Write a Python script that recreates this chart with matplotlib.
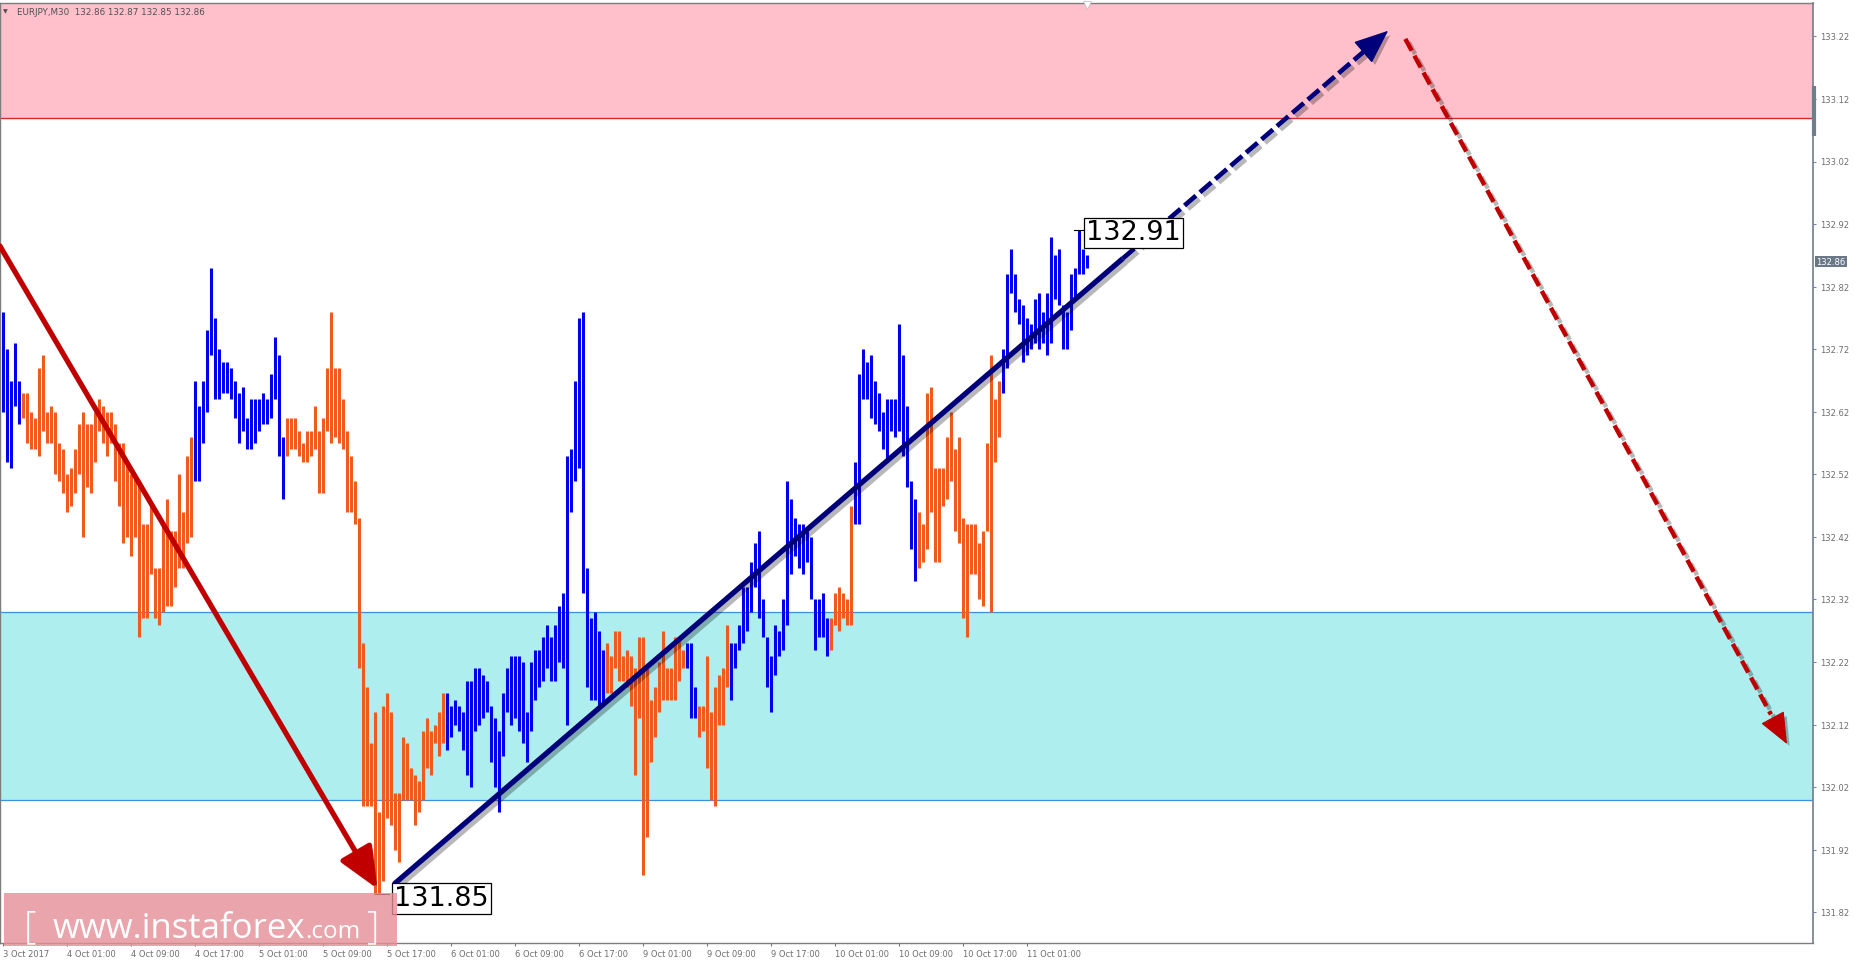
import matplotlib
matplotlib.use("Agg")
import matplotlib.pyplot as plt
import matplotlib.transforms as mtransforms
from matplotlib import patheffects as pe
from matplotlib.patches import Rectangle

# ---------------- data (EURJPY M30, bar highs / lows) ----------------
highs = [
    132.78, 132.72, 132.67, 132.73, 132.67, 132.65, 132.65, 132.62, 132.61, 132.69,
    132.71, 132.62, 132.63, 132.62, 132.57, 132.56, 132.52, 132.53, 132.56, 132.60,
    132.62, 132.60, 132.60, 132.62, 132.64, 132.63, 132.62, 132.62, 132.60, 132.57,
    132.57, 132.54, 132.52, 132.52, 132.51, 132.44, 132.44, 132.47, 132.37, 132.37,
    132.44, 132.48, 132.43, 132.43, 132.52, 132.46, 132.55, 132.58, 132.67, 132.63,
    132.67, 132.75, 132.85, 132.77, 132.72, 132.70, 132.70, 132.69, 132.67, 132.65,
    132.66, 132.61, 132.64, 132.64, 132.64, 132.65, 132.64, 132.68, 132.74, 132.71,
    132.58, 132.61, 132.61, 132.61, 132.59, 132.57, 132.59, 132.59, 132.63, 132.59,
    132.61, 132.69, 132.78, 132.69, 132.69, 132.64, 132.59, 132.55, 132.51, 132.45,
    132.25, 132.18, 132.09, 132.14, 131.98, 132.15, 132.17, 132.14, 132.01, 132.01,
    132.10, 132.09, 132.05, 132.04, 132.03, 132.11, 132.13, 132.11, 132.12, 132.14,
    132.17, 132.17, 132.15, 132.16, 132.15, 132.14, 132.19, 132.19, 132.21, 132.21,
    132.20, 132.19, 132.15, 132.13, 132.11, 132.17, 132.21, 132.23, 132.23, 132.23,
    132.22, 132.14, 132.22, 132.24, 132.24, 132.26, 132.28, 132.26, 132.28, 132.31,
    132.33, 132.55, 132.56, 132.67, 132.77, 132.78, 132.37, 132.29, 132.30, 132.27,
    132.24, 132.25, 132.23, 132.27, 132.27, 132.23, 132.24, 132.23, 132.21, 132.26,
    132.26, 132.21, 132.16, 132.18, 132.22, 132.27, 132.21, 132.21, 132.26, 132.26,
    132.24, 132.25, 132.25, 132.18, 132.15, 132.15, 132.23, 132.14, 132.18, 132.20,
    132.21, 132.28, 132.25, 132.25, 132.28, 132.34, 132.34, 132.38, 132.41, 132.43,
    132.32, 132.26, 132.23, 132.28, 132.27, 132.32, 132.51, 132.48, 132.45, 132.44,
    132.44, 132.43, 132.42, 132.32, 132.32, 132.33, 132.29, 132.29, 132.33, 132.34,
    132.33, 132.32, 132.47, 132.54, 132.68, 132.72, 132.70, 132.71, 132.67, 132.65,
    132.62, 132.64, 132.64, 132.64, 132.76, 132.71, 132.63, 132.51, 132.48, 132.46,
    132.44, 132.65, 132.66, 132.53, 132.53, 132.53, 132.58, 132.62, 132.56, 132.58,
    132.45, 132.44, 132.44, 132.44, 132.41, 132.43, 132.57, 132.71, 132.64, 132.67,
    132.72, 132.84, 132.88, 132.84, 132.80, 132.79, 132.77, 132.76, 132.80, 132.81,
    132.78, 132.81, 132.90, 132.87, 132.88, 132.79, 132.78, 132.84, 132.85, 132.91,
    132.88, 132.87,
]
lows = [
    132.62, 132.54, 132.53, 132.63, 132.60, 132.61, 132.57, 132.56, 132.56, 132.55,
    132.59, 132.57, 132.57, 132.52, 132.51, 132.49, 132.46, 132.47, 132.49, 132.52,
    132.42, 132.50, 132.49, 132.54, 132.59, 132.57, 132.55, 132.57, 132.51, 132.47,
    132.41, 132.42, 132.39, 132.42, 132.26, 132.29, 132.29, 132.36, 132.29, 132.28,
    132.30, 132.31, 132.31, 132.34, 132.37, 132.37, 132.41, 132.42, 132.51, 132.51,
    132.57, 132.62, 132.71, 132.64, 132.64, 132.65, 132.65, 132.64, 132.61, 132.57,
    132.59, 132.56, 132.56, 132.57, 132.59, 132.60, 132.60, 132.61, 132.64, 132.55,
    132.48, 132.55, 132.56, 132.56, 132.55, 132.54, 132.54, 132.55, 132.56, 132.49,
    132.49, 132.59, 132.57, 132.58, 132.57, 132.56, 132.46, 132.46, 132.44, 132.21,
    131.99, 131.99, 131.99, 131.85, 131.85, 131.87, 131.97, 131.96, 131.92, 131.90,
    132.00, 132.00, 132.00, 131.96, 131.98, 132.00, 132.05, 132.04, 132.09, 132.07,
    132.09, 132.08, 132.10, 132.12, 132.11, 132.08, 132.04, 132.02, 132.11, 132.12,
    132.13, 132.14, 132.06, 132.02, 131.98, 132.07, 132.14, 132.12, 132.13, 132.11,
    132.09, 132.06, 132.11, 132.16, 132.18, 132.19, 132.21, 132.19, 132.19, 132.22,
    132.21, 132.12, 132.46, 132.51, 132.53, 132.33, 132.18, 132.16, 132.16, 132.15,
    132.15, 132.17, 132.17, 132.21, 132.19, 132.19, 132.18, 132.15, 132.04, 132.13,
    131.88, 131.94, 132.06, 132.10, 132.14, 132.16, 132.16, 132.16, 132.16, 132.19,
    132.21, 132.21, 132.13, 132.13, 132.10, 132.11, 132.05, 132.00, 131.99, 132.12,
    132.12, 132.18, 132.16, 132.21, 132.24, 132.25, 132.27, 132.30, 132.34, 132.29,
    132.26, 132.18, 132.14, 132.20, 132.23, 132.24, 132.28, 132.36, 132.39, 132.37,
    132.36, 132.38, 132.32, 132.24, 132.26, 132.26, 132.23, 132.24, 132.28, 132.27,
    132.29, 132.28, 132.28, 132.44, 132.44, 132.64, 132.64, 132.61, 132.60, 132.59,
    132.56, 132.54, 132.59, 132.58, 132.59, 132.55, 132.50, 132.40, 132.35, 132.37,
    132.38, 132.40, 132.46, 132.38, 132.38, 132.47, 132.48, 132.51, 132.43, 132.41,
    132.29, 132.26, 132.36, 132.36, 132.32, 132.31, 132.43, 132.30, 132.54, 132.58,
    132.65, 132.69, 132.81, 132.78, 132.76, 132.70, 132.71, 132.72, 132.73, 132.72,
    132.73, 132.71, 132.73, 132.80, 132.79, 132.72, 132.72, 132.75, 132.80, 132.84,
    132.84, 132.85,
]
# wave segments: first bar (1-based) of each segment and its direction
wave_starts = [1, 6, 49, 72, 112, 152, 172, 175, 183, 208, 214, 230, 251]
wave_dirs = ["up", "down", "up", "down", "up", "down", "up", "down", "up",
             "down", "up", "down", "up"]

time_labels = ["3 Oct 2017", "4 Oct 01:00", "4 Oct 09:00", "4 Oct 17:00",
               "5 Oct 01:00", "5 Oct 09:00", "5 Oct 17:00", "6 Oct 01:00",
               "6 Oct 09:00", "6 Oct 17:00", "9 Oct 01:00", "9 Oct 09:00",
               "9 Oct 17:00", "10 Oct 01:00", "10 Oct 09:00", "10 Oct 17:00",
               "11 Oct 01:00"]
bars_per_label = 16
price_ticks = [131.82, 131.92, 132.02, 132.12, 132.22, 132.32, 132.42,
               132.52, 132.62, 132.72, 132.82, 132.92, 133.02, 133.12, 133.22]

resistance_zone = [133.09, 133.40]
support_zone = [132.00, 132.30]
last_price = 132.86
low_label = "131.85"
high_label = "132.91"
low_bar = 94      # 1-based bar of the 131.85 low
high_bar = 270    # 1-based bar of the 132.91 high

# wave annotation lines (bar index, price)
down_arrow = [(-0.7, 132.885), (93.6, 131.858)]
up_arrow = [(97.8, 131.865), (346.3, 133.229)]
up_solid_until = 280.0
forecast_arrow = [(350.6, 133.216), (446.0, 132.089)]

# ---------------- styling ----------------
UP_COL = "#0000EE"
DN_COL = "#F05A1E"
NAVY = "#00007A"
DARKRED = "#C00000"

W, H = 1854, 962
fig = plt.figure(figsize=(W / 100 + 0.004, H / 100 + 0.004), dpi=100)
fig.patch.set_facecolor("white")
ax = fig.add_axes([0.0, 19 / H, 1813 / W, (943 - 3) / H])
ax.set_facecolor("white")

n = len(highs)
xs = list(range(n))
colors = []
for i in range(1, n + 1):
    seg = max(k for k, s in enumerate(wave_starts) if s <= i)
    colors.append(UP_COL if wave_dirs[seg] == "up" else DN_COL)

ymin, ymax = 131.771, 133.274
ax.set_ylim(ymin, ymax)
ax.set_xlim(-0.67, 452.6)

# zones
ax.axhspan(resistance_zone[0], resistance_zone[1], color="#FFC0CB", zorder=0, lw=0)
ax.axhline(resistance_zone[0], color="#D02C2C", lw=1.0, zorder=1)
ax.axhspan(support_zone[0], support_zone[1], color="#AFEEEE", zorder=0, lw=0)
ax.axhline(support_zone[0], color="#3D8FE0", lw=0.9, zorder=1)
ax.axhline(support_zone[1], color="#3D8FE0", lw=0.9, zorder=1)

# bars
ax.vlines(xs, lows, highs, colors=colors, linewidth=2.2, zorder=3)

shadow = [pe.SimpleLineShadow(offset=(2.5, -2.5), shadow_color="black", alpha=0.28),
          pe.Normal()]
patch_shadow = [pe.withSimplePatchShadow(offset=(2.5, -2.5), shadow_rgbFace="black",
                                          alpha=0.28)]

# solid red down arrow
a1 = ax.annotate("", xy=down_arrow[1], xytext=down_arrow[0],
                 arrowprops=dict(arrowstyle="-|>,head_length=1.25,head_width=0.55",
                                 mutation_scale=20, lw=3.8, color=DARKRED,
                                 shrinkA=0, shrinkB=0), zorder=5)
a1.arrow_patch.set_path_effects(patch_shadow)

# up arrow: solid then dashed
(x0, y0), (x1, y1) = up_arrow
slope = (y1 - y0) / (x1 - x0)
ys_split = y0 + slope * (up_solid_until - x0)
ax.plot([x0, up_solid_until], [y0, ys_split], color=NAVY, lw=3.8,
        solid_capstyle="butt", zorder=5, path_effects=shadow)
xe = x1 - 5
ax.plot([up_solid_until, xe], [ys_split, y0 + slope * (xe - x0)], color=NAVY, lw=3.4,
        dashes=(3.2, 1.1), zorder=5, path_effects=shadow)
a2 = ax.annotate("", xy=(x1, y1), xytext=(x1 - 6, y1 - slope * 6),
                 arrowprops=dict(arrowstyle="-|>,head_length=1.1,head_width=0.45",
                                 mutation_scale=20, lw=1.0, color=NAVY,
                                 shrinkA=0, shrinkB=0), zorder=6)
a2.arrow_patch.set_path_effects(patch_shadow)

# red dashed forecast arrow
(fx0, fy0), (fx1, fy1) = forecast_arrow
fslope = (fy1 - fy0) / (fx1 - fx0)
fxe = fx1 - 4
ax.plot([fx0, fxe], [fy0, fy0 + fslope * (fxe - fx0)], color=DARKRED, lw=3.2,
        dashes=(3.0, 1.3), zorder=5, path_effects=shadow)
a3 = ax.annotate("", xy=(fx1, fy1), xytext=(fx1 - 3, fy1 - fslope * 3),
                 arrowprops=dict(arrowstyle="-|>,head_length=1.0,head_width=0.42",
                                 mutation_scale=20, lw=1.0, color=DARKRED,
                                 shrinkA=0, shrinkB=0), zorder=6)
a3.arrow_patch.set_path_effects(patch_shadow)

# price labels
ax.plot([low_bar - 1, low_bar + 2.6], [lows[low_bar - 1]] * 2, color="black", lw=0.8, zorder=6)
ax.text(low_bar + 3.8, lows[low_bar - 1] + 0.013, low_label, ha="left", va="top",
        fontsize=19.5, color="black", zorder=8,
        bbox=dict(boxstyle="square,pad=0.08", fc="white", ec="black", lw=0.9))
ax.plot([high_bar - 2.2, high_bar + 0.3], [highs[high_bar - 1]] * 2, color="black", lw=0.8, zorder=6)
ax.text(high_bar + 0.8, highs[high_bar - 1] + 0.017, high_label, ha="left", va="top",
        fontsize=19.5, color="black", zorder=8,
        bbox=dict(boxstyle="square,pad=0.08", fc="white", ec="black", lw=0.9))

# axes styling
ax.yaxis.tick_right()
ax.set_yticks(price_ticks)
ax.set_yticklabels([f"{p:.2f}" for p in price_ticks])
ax.tick_params(axis="y", direction="out", length=2, width=0.8, pad=2.5,
               labelsize=6, labelcolor="#6E6E6E", color="#7A8794")
ax.set_xticks(list(range(0, n, bars_per_label)))
ax.set_xticklabels(time_labels)
ax.tick_params(axis="x", direction="out", length=2.5, width=0.8, pad=2.5,
               labelsize=6, labelcolor="#6E6E6E", color="#7A7A7A")
for lbl in ax.get_xticklabels():
    lbl.set_horizontalalignment("left")
for side in ["left", "top", "bottom"]:
    ax.spines[side].set_color("#7D7D7D")
    ax.spines[side].set_linewidth(1.0)
ax.spines["right"].set_color("#6F7D8C")
ax.spines["right"].set_linewidth(1.2)

# current price tag and right-axis marker
blend = mtransforms.blended_transform_factory(ax.transAxes, ax.transData)
ax.text(1.0015, last_price, f"{last_price:.2f}", transform=blend, ha="left", va="center",
        fontsize=6, color="white", zorder=9, clip_on=False,
        bbox=dict(boxstyle="square,pad=0.15", fc="#6B7888", ec="none"))
ax.plot([1.0005, 1.0005], [133.141, 133.061], transform=blend, color="#6F7D8C", lw=3,
        clip_on=False, solid_capstyle="butt", zorder=9)
ax.plot([high_bar + 1.1], [ymax - 0.004], marker="v", color="white", markersize=6,
        markeredgecolor="#BBBBBB", markeredgewidth=0.5, zorder=9, clip_on=False)

# header
fig.text(3 / W, 1 - 12 / H, "\u25bc", fontsize=4.5, color="#505050", va="center", ha="left")
fig.text(17 / W, 1 - 12 / H, "EURJPY,M30  132.86 132.87 132.85 132.86", fontsize=6.3,
         color="#505050", va="center", ha="left")

# watermark
fig.add_artist(Rectangle((4 / W, 1 - 946 / H), 393 / W, 53 / H, transform=fig.transFigure,
                         facecolor="#E48F96", alpha=0.8, edgecolor="none", zorder=20))
renderer = fig.canvas.get_renderer()
base_y = 1 - 938 / H
t1 = fig.text(24 / W, base_y, "[", fontsize=28, color="white", family="Open Sans",
              va="baseline", ha="left", zorder=21, fontweight="light")
t2 = fig.text(53 / W, base_y, "www.instaforex", fontsize=25, color="white",
              family="Open Sans", va="baseline", ha="left", zorder=21)
bb = t2.get_window_extent(renderer)
t3 = fig.text(bb.x1 / W, base_y, ".com", fontsize=17.5, color="white", family="Open Sans",
              va="baseline", ha="left", zorder=21)
bb3 = t3.get_window_extent(renderer)
fig.text((bb3.x1 + 6) / W, base_y, "]", fontsize=28, color="white", family="Open Sans",
         va="baseline", ha="left", zorder=21, fontweight="light")

fig.savefig("out.png", dpi=100)
